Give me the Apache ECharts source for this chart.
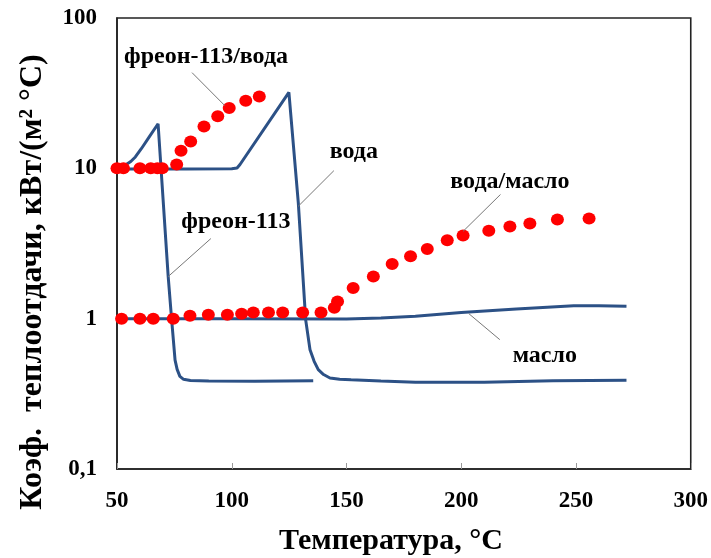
<!DOCTYPE html>
<html>
<head>
<meta charset="utf-8">
<script src="https://cdn.jsdelivr.net/npm/echarts@6/dist/echarts.min.js"></script>
<style>html,body{margin:0;padding:0;background:#fff}#c{width:711px;height:558px}</style>
</head>
<body>
<div id="c"></div>
<script>
// ---- data ----
const freonX = [50, 52, 54, 56, 58, 60.6, 64.2, 67.9, 72.3, 73.8, 75.3, 76.2, 77.4, 79, 82, 90, 110, 135.5];
const freonY = [10, 10.2, 10.6, 11.1, 11.9, 13.5, 16.3, 19.8, 1.91, 0.99, 0.53, 0.46, 0.413, 0.395, 0.388, 0.385, 0.383, 0.387];

const waterX = [50, 60, 80, 100, 102.3, 103.6, 124.9, 129.0, 132.2, 134.1, 135.9, 137.7, 140, 142.8, 147, 152, 165, 180, 210, 240, 272];
const waterY = [9.9, 9.9, 9.9, 9.95, 10.05, 10.6, 32.0, 5.89, 0.985, 0.622, 0.52, 0.458, 0.425, 0.403, 0.395, 0.392, 0.385, 0.378, 0.378, 0.386, 0.389];

const oilX = [50, 100, 150, 165, 180, 200, 224, 249, 260, 272];
const oilY = [1.0, 1.0, 0.995, 1.01, 1.036, 1.10, 1.16, 1.22, 1.22, 1.21];

const freonWaterX = [50, 52.8, 60, 64.7, 67.6, 69.7, 76, 77.9, 82.1, 87.9, 93.9, 98.9, 106.1, 112];
const freonWaterY = [10, 10, 10, 10, 10, 10, 10.6, 13.1, 15.1, 19.0, 22.2, 25.2, 28.2, 30.0];

const waterOilX = [52, 60, 65.8, 74.5, 81.8, 89.8, 98.1, 104.3, 109.4, 116, 122.2, 130.9, 138.9, 144.7, 146.1, 152.9, 161.7, 169.9, 177.9, 185.2, 193.9, 200.8, 212, 221.2, 229.9, 241.9, 255.7];
const waterOilY = [1.0, 1.0, 1.0, 1.0, 1.047, 1.063, 1.063, 1.08, 1.10, 1.10, 1.10, 1.10, 1.10, 1.18, 1.30, 1.60, 1.91, 2.31, 2.60, 2.91, 3.32, 3.57, 3.85, 4.11, 4.29, 4.56, 4.63];

const xTicks = [50, 100, 150, 200, 250, 300];
const yTickLabels = {0.1: '0,1', 1: '1', 10: '10', 100: '100'};

const labelTexts = ['фреон-113/вода', 'вода', 'фреон-113', 'вода/масло', 'масло'];
const labelAt = [[88.8, 55.4], [153.2, 12.9], [101.8, 4.42], [221.2, 8.16], [236.4, 0.567]];
const leaderFrom = [[82.7, 43.3], [144.5, 9.65], [90.9, 3.41], [217.1, 6.70], [216.8, 0.725]];
const leaderTo = [[97.0, 26.1], [128.8, 5.56], [72.2, 1.90], [200.8, 3.81], [203.3, 1.08]];

const xTitle = 'Температура, °С';
const yTitle = 'Коэф.  теплоотдачи, кВт/(м² °С)';

// ---- chart ----
const zip = (xs, ys) => xs.map((x, i) => [x, ys[i]]);
const FONT = '"Liberation Serif", "Times New Roman", serif';
const lineColor = '#2c5186';
const dotColor = '#ff0000';

const chart = echarts.init(document.getElementById('c'), null, {renderer: 'canvas'});
const lineSeries = (name, xs, ys) => ({
  name, type: 'line', data: zip(xs, ys), showSymbol: false, symbol: 'none',
  smooth: false, lineStyle: {color: lineColor, width: 3}, z: 2, clip: true
});
const dotSeries = (name, xs, ys) => ({
  name, type: 'scatter', data: zip(xs, ys), symbol: 'circle', symbolSize: [13, 12],
  itemStyle: {color: dotColor, opacity: 1}, z: 3, clip: false
});

chart.setOption({
  animation: false,
  backgroundColor: '#fff',
  grid: {left: 117, top: 18, right: 20, bottom: 89, show: true, borderColor: '#222', borderWidth: 1.6, backgroundColor: 'transparent'},
  xAxis: {
    type: 'value', min: 50, max: 300, interval: 50,
    axisLine: {show: true, lineStyle: {color: '#222', width: 1.6}},
    axisTick: {show: true, inside: true, length: 6, lineStyle: {color: '#999', width: 1}},
    splitLine: {show: false},
    axisLabel: {margin: 21, color: '#000', fontFamily: FONT, fontWeight: 'bold', fontSize: 23,
      formatter: v => xTicks.includes(v) ? String(v) : ''}
  },
  yAxis: {
    type: 'log', logBase: 10, min: 0.1, max: 100,
    axisLine: {show: true, lineStyle: {color: '#222', width: 1.6}},
    axisTick: {show: false},
    splitLine: {show: false},
    axisLabel: {margin: 20, color: '#000', fontFamily: FONT, fontWeight: 'bold', fontSize: 23,
      formatter: v => { const k = Object.keys(yTickLabels).find(t => Math.abs(+t - v) < 1e-9 * Math.max(1, v)); return k !== undefined ? yTickLabels[k] : ''; }}
  },
  graphic: [
    {type: 'text', x: 391, y: 541, style: {text: xTitle, font: 'bold 30px ' + FONT, fill: '#000', align: 'center', verticalAlign: 'middle'}},
    {type: 'text', x: 33, y: 282, rotation: Math.PI / 2, style: {text: yTitle, font: 'bold 32px ' + FONT, fill: '#000', align: 'center', verticalAlign: 'middle'}}
  ],
  series: [
    lineSeries('фреон-113', freonX, freonY),
    lineSeries('вода', waterX, waterY),
    lineSeries('масло', oilX, oilY),
    dotSeries('фреон-113/вода', freonWaterX, freonWaterY),
    dotSeries('вода/масло', waterOilX, waterOilY),
    {
      name: 'annotations', type: 'custom', z: 5, silent: true, clip: false,
      data: labelAt.map((p, i) => [p[0], p[1], i]),
      renderItem: (params, api) => {
        const pt = api.coord([api.value(0), api.value(1)]);
        return {type: 'text', x: pt[0], y: pt[1], style: {
          text: labelTexts[api.value(2)], font: 'bold 24px ' + FONT, fill: '#000',
          align: 'center', verticalAlign: 'middle', opacity: 1}};
      },
      markLine: {
        silent: true, symbol: ['none', 'none'], label: {show: false},
        lineStyle: {color: '#777', width: 1, type: 'solid', opacity: 1},
        data: leaderFrom.map((p, i) => [{coord: p}, {coord: leaderTo[i]}])
      }
    }
  ]
});
</script>
</body>
</html>
